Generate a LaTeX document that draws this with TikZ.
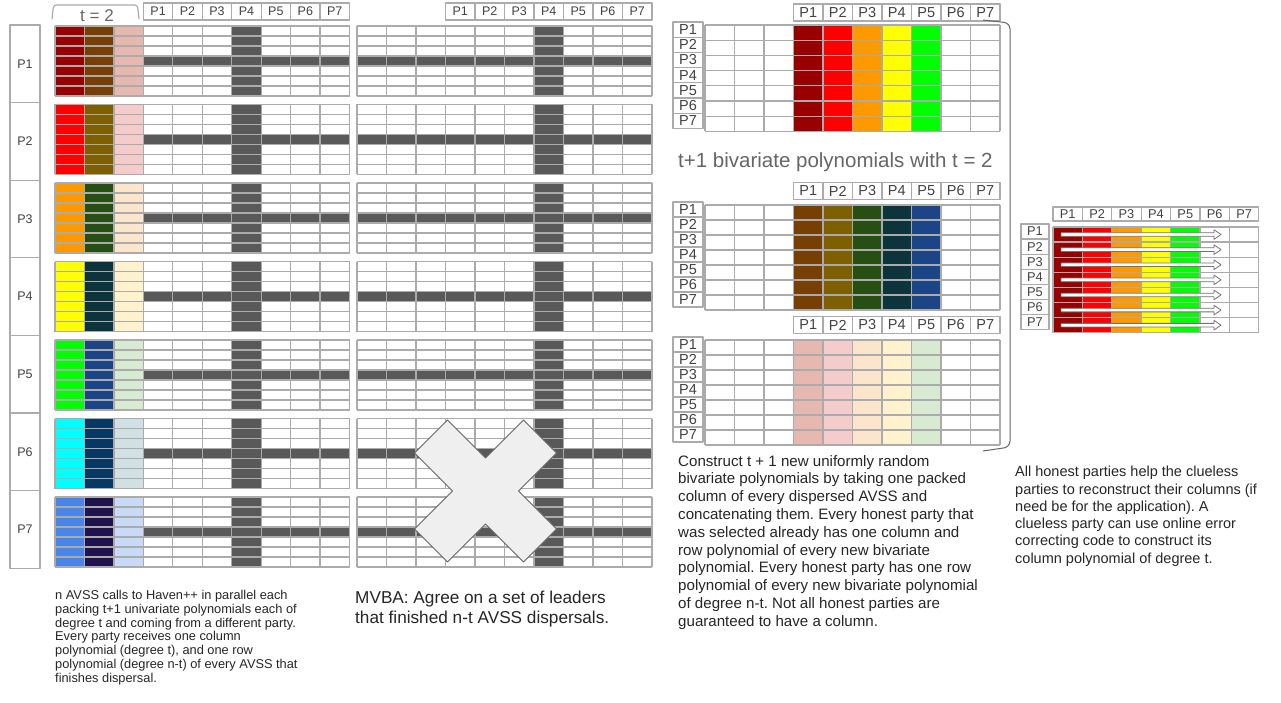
\documentclass[tikz,border=0pt]{standalone}
\usepackage{fontspec}
\setmainfont{Liberation Sans}
\frenchspacing

\definecolor{gridgray}{HTML}{ABABAB}
\definecolor{darkcell}{HTML}{595959}
\definecolor{inkgray}{HTML}{434343}
\definecolor{captiongray}{HTML}{666666}
\definecolor{crossfill}{HTML}{EFEFEF}
% first, second and third packed column of each dealer
\definecolor{colA1}{HTML}{980000}\definecolor{colB1}{HTML}{783F04}\definecolor{colC1}{HTML}{E6B8AF}
\definecolor{colA2}{HTML}{FF0000}\definecolor{colB2}{HTML}{7F6000}\definecolor{colC2}{HTML}{F4CCCC}
\definecolor{colA3}{HTML}{FF9900}\definecolor{colB3}{HTML}{274E13}\definecolor{colC3}{HTML}{FCE5CD}
\definecolor{colA4}{HTML}{FFFF00}\definecolor{colB4}{HTML}{0C343D}\definecolor{colC4}{HTML}{FFF2CC}
\definecolor{colA5}{HTML}{00FF00}\definecolor{colB5}{HTML}{1C4587}\definecolor{colC5}{HTML}{D9EAD3}
\definecolor{colA6}{HTML}{00FFFF}\definecolor{colB6}{HTML}{073763}\definecolor{colC6}{HTML}{D0E0E3}
\definecolor{colA7}{HTML}{4A86E8}\definecolor{colB7}{HTML}{20124D}\definecolor{colC7}{HTML}{C9DAF8}

\begin{document}
\begin{tikzpicture}[x=1pt,y=-1pt,line join=round,
  gridline/.style={draw=gridgray,line width=1.2pt},
  hdrcell/.style={draw=gridgray,line width=1.2pt,inner sep=0pt,text=inkgray,
    font=\fontsize{12.5}{14}\selectfont},
  bighdr/.style={font=\fontsize{14.5}{16}\selectfont},
  midhdr/.style={font=\fontsize{12.8}{14}\selectfont},
  blurb/.style={anchor=north west,inner sep=0pt,align=left,text=black!85},
  pushbar/.style={draw=black!55,fill=white,line width=.8pt}]

\fill[white] (0,0) rectangle (1281,703);
\useasboundingbox (0,0) rectangle (1281,703);

% Left: n AVSS instances, one block per dealer.
\foreach \i in {1,...,7}{
  \pgfmathsetmacro{\yt}{26+(\i-1)*78.5}
  \fill[fill=colA\i] (55,\yt) rectangle ++(29.45,70);
  \fill[fill=colB\i] (84.45,\yt) rectangle ++(29.45,70);
  \fill[fill=colC\i] (113.9,\yt) rectangle ++(29.45,70);
  \fill[darkcell] (231.7,\yt) rectangle ++(29.45,70);
  \fill[darkcell] (143.35,\yt+30) rectangle (349.5,\yt+40);
  \foreach \k in {0,...,10} \draw[gridline] (55+\k*29.45,\yt) -- ++(0,70);
  \foreach \k in {0,...,7} \draw[gridline] (55,\yt+\k*10) -- ++(294.5,0);
  \node[hdrcell,minimum width=30pt,minimum height=77.6pt] (dealer\i) at (25,{25+(\i-0.5)*77.6}) {P\i};
}
\foreach \k in {1,...,7}
  \node[hdrcell,minimum width=29.45pt,minimum height=17pt] (lhead\k) at ({143.35+(\k-0.5)*29.45},11.5) {P\k};
\draw[draw=gridgray,line width=1.2pt,rounded corners=3pt] (52,19) -- (53.5,5) -- (137.5,5) -- (139,19);
\node[text=captiongray,font=\fontsize{17}{19}\selectfont] (tlabel) at (97,16) {t = 2};

% Middle: the same blocks after MVBA, one instance struck out.
\foreach \i in {1,...,7}{
  \pgfmathsetmacro{\yt}{26+(\i-1)*78.5}
  \fill[darkcell] (534,\yt) rectangle ++(29.5,70);
  \fill[darkcell] (357,\yt+30) rectangle ++(295,10);
  \foreach \k in {0,...,10} \draw[gridline] (357+\k*29.5,\yt) -- ++(0,70);
  \foreach \k in {0,...,7} \draw[gridline] (357,\yt+\k*10) -- ++(295,0);
}
\foreach \k in {1,...,7}
  \node[hdrcell,minimum width=29.5pt,minimum height=17pt] (mhead\k) at ({445.5+(\k-0.5)*29.5},11.5) {P\k};
\draw[fill=crossfill,draw=captiongray,line width=1pt] (485.5,491) ++(0,-33)
  -- ++(38,-38) -- ++(33,33) -- ++(-38,38) -- ++(38,38) -- ++(-33,33) -- ++(-38,-38)
  -- ++(-38,38) -- ++(-33,-33) -- ++(38,-38) -- ++(-38,-38) -- ++(33,-33) -- cycle;

% Right: t+1 new bivariate polynomials.
\foreach \yh/\yg/\rh/\set [count=\t] in {12.5/25/15.2/A,191/205/15/B,325/340/15/C}{
  \foreach \k in {1,...,5}
    \fill[fill=col\set\k] ({705+(\k+2)*29.5},\yg) rectangle ++(29.5,{7*\rh});
  \foreach \k in {0,...,10} \draw[gridline] (705+\k*29.5,\yg) -- ++(0,{7*\rh});
  \foreach \k in {0,...,7} \draw[gridline] (705,\yg+\k*\rh) -- ++(295,0);
  \foreach \k in {1,...,7}{
    \node[hdrcell,bighdr,minimum width=29.5pt,minimum height=17pt] (poly\t-head\k) at ({793.5+(\k-0.5)*29.5},\yh) {P\k};
    \node[hdrcell,bighdr,minimum width=30pt,minimum height=\rh] (poly\t-row\k) at (688,{\yg-3+(\k-0.5)*\rh}) {P\k};
  }
}
\draw[captiongray,line width=1pt,rounded corners=6pt] (983,20) -- (1010,23) -- (1010,447) -- (983,451);
\node[blurb,text=captiongray,font=\fontsize{20.5}{23}\selectfont] (polytitle) at (678,152)
  {t+1 bivariate polynomials with t = 2};

% Far right: clueless parties rebuild their columns.
\foreach \k in {1,...,5}
  \fill[fill=colA\k] ({1053+(\k-1)*29.4},227) rectangle ++(29.4,105.7);
\foreach \k in {0,...,7} \draw[gridline] (1053+\k*29.4,227) -- ++(0,105.7);
\foreach \k in {0,...,7} \draw[gridline] (1053,227+\k*15.1) -- ++(205.8,0);
\foreach \k in {1,...,7}{
  \node[hdrcell,midhdr,minimum width=29.4pt,minimum height=14pt] (col-head\k) at ({1053+(\k-0.5)*29.4},214) {P\k};
  \node[hdrcell,midhdr,minimum width=28pt,minimum height=15.1pt] (col-row\k) at (1035,{224+(\k-0.5)*15.1}) {P\k};
}
\foreach \r in {1,...,7}{
  \pgfmathsetmacro{\ya}{227+(\r-0.5)*15.1}
  \draw[pushbar] (1061,\ya-1.8) -- (1214,\ya-1.8) -- (1214,\ya-4.8) -- (1221,\ya)
    -- (1214,\ya+4.8) -- (1214,\ya+1.8) -- (1061,\ya+1.8) -- cycle;
}

% Captions.
\node[blurb,font=\fontsize{12.8}{13.8}\selectfont] (avsstext) at (55,590)
  {n AVSS calls to Haven++ in parallel each\\
   packing t+1 univariate polynomials each of\\
   degree t and coming from a different party.\\
   Every party receives one column\\
   polynomial (degree t), and one row\\
   polynomial (degree n-t) of every AVSS that\\
   finishes dispersal.};
\node[blurb,font=\fontsize{17.2}{20}\selectfont] (mvbatext) at (355,591)
  {MVBA: Agree on a set of leaders\\
   that finished n-t AVSS dispersals.};
\node[blurb,font=\fontsize{15.1}{17.8}\selectfont] (constructtext) at (678,455)
  {Construct t + 1 new uniformly random\\
   bivariate polynomials by taking one packed\\
   column of every dispersed AVSS and\\
   concatenating them. Every honest party that\\
   was selected already has one column and\\
   row polynomial of every new bivariate\\
   polynomial. Every honest party has one row\\
   polynomial of every new bivariate polynomial\\
   of degree n-t. Not all honest parties are\\
   guaranteed to have a column.};
\node[blurb,font=\fontsize{14.5}{17.3}\selectfont] (cluelesstext) at (1015,466)
  {All honest parties help the clueless\\
   parties to reconstruct their columns (if\\
   need be for the application). A\\
   clueless party can use online error\\
   correcting code to construct its\\
   column polynomial of degree t.};

\end{tikzpicture}
\end{document}
